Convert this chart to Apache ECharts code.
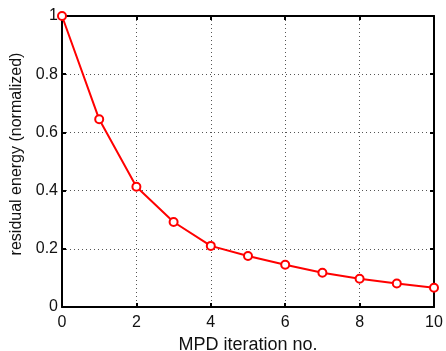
<!DOCTYPE html>
<html>
<head>
<meta charset="utf-8">
<script src="https://cdn.jsdelivr.net/npm/echarts@6/dist/echarts.min.js"></script>
<style>
  html, body { margin: 0; padding: 0; background: #fff; }
  #chart { width: 446px; height: 351px; }
</style>
</head>
<body>
<div id="chart"></div>
<script>
// MPD iteration vs. normalized residual energy
const iterations = [0, 1, 2, 3, 4, 5, 6, 7, 8, 9, 10];
const residualEnergy = [1.0, 0.645, 0.413, 0.292, 0.21, 0.175, 0.145, 0.118, 0.097, 0.081, 0.066];

const chart = echarts.init(document.getElementById('chart'));
const font = 'Liberation Sans, Arial, sans-serif';

// top / right axes only close the box (MATLAB style)
const boxAxis = {
  axisLine: { show: true, onZero: false, lineStyle: { color: '#000', width: 2 } },
  axisTick: { show: true, inside: true, length: 4, lineStyle: { color: '#000', width: 2 } },
  axisLabel: { show: false },
  splitLine: { show: false }
};

chart.setOption({
  animation: false,
  grid: { left: 62, right: 12, top: 16, bottom: 44, containLabel: false, outerBoundsMode: 'none' },
  xAxis: [
    {
      type: 'value',
      min: 0,
      max: 10,
      interval: 2,
      name: 'MPD iteration no.',
      nameLocation: 'middle',
      nameGap: 22,
      nameTextStyle: { color: '#111', fontSize: 18, fontFamily: font },
      axisLine: { onZero: false, lineStyle: { color: '#000', width: 2 } },
      axisTick: { inside: true, length: 4, lineStyle: { color: '#000', width: 2 } },
      axisLabel: { color: '#111', fontSize: 16, fontFamily: font, margin: 8 },
      splitLine: { show: true, lineStyle: { color: '#555', type: [1, 3], width: 1 } }
    },
    Object.assign({ type: 'value', position: 'top', min: 0, max: 10, interval: 2 }, boxAxis)
  ],
  yAxis: [
    {
      type: 'value',
      min: 0,
      max: 1,
      interval: 0.2,
      name: 'residual energy (normalized)',
      nameLocation: 'middle',
      nameGap: 35,
      nameTextStyle: { color: '#111', fontSize: 16, fontFamily: font, padding: [0, 0, 0, 15] },
      axisLine: { onZero: false, lineStyle: { color: '#000', width: 2 } },
      axisTick: { inside: true, length: 4, lineStyle: { color: '#000', width: 2 } },
      axisLabel: { color: '#111', fontSize: 16, fontFamily: font, margin: 4 },
      splitLine: { show: true, lineStyle: { color: '#555', type: [1, 3], width: 1 } }
    },
    Object.assign({ type: 'value', position: 'right', min: 0, max: 1, interval: 0.2 }, boxAxis)
  ],
  series: [
    {
      type: 'line',
      data: iterations.map((x, i) => [x, residualEnergy[i]]),
      lineStyle: { color: '#ff0000', width: 2 },
      symbol: 'circle',
      symbolSize: 8,
      itemStyle: { color: '#fff', borderColor: '#ff0000', borderWidth: 2 },
      clip: false,
      z: 5
    }
  ]
});
</script>
</body>
</html>
